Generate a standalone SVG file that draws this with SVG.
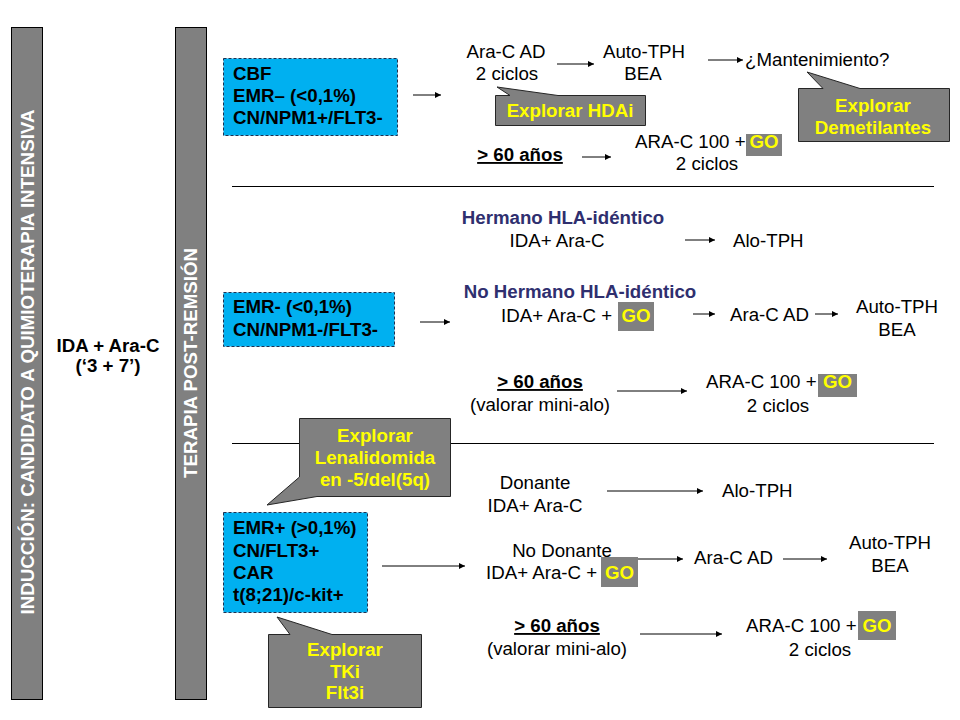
<svg xmlns="http://www.w3.org/2000/svg" width="960" height="720" viewBox="0 0 960 720">
<defs>
<marker id="ah" viewBox="0 0 10 10" refX="10" refY="5" markerWidth="8" markerHeight="6" markerUnits="userSpaceOnUse" orient="auto">
<path d="M0,0 L10,5 L0,10 Z" fill="#000"/>
</marker>
</defs>
<style>
text{font-family:"Liberation Sans",Arial,sans-serif;font-size:18.7px;fill:#000}
.b{font-weight:bold}
.c{text-anchor:middle}
.w{fill:#fff;font-weight:bold}
.y{fill:#FFFF00;font-weight:bold}
.n{fill:#2F2F6F;font-weight:bold}
.u{text-decoration:underline}
.bar{fill:#808080;stroke:#000;stroke-width:1}
.box{fill:#00B0F0;stroke:#1F3050;stroke-width:1;stroke-dasharray:3,2}
.call{fill:#808080;stroke:#262626;stroke-width:1}
.go{fill:#808080}
.ar{stroke:#000;stroke-width:1;fill:none;marker-end:url(#ah)}
.sep{stroke:#000;stroke-width:1}
</style>
<rect width="960" height="720" fill="#fff"/>

<g id="bar-induccion">
<rect class="bar" x="11.5" y="27.5" width="31" height="672"/>
<text class="w c" transform="translate(34,362) rotate(-90)" textLength="505" lengthAdjust="spacingAndGlyphs">INDUCCIÓN: CANDIDATO A QUIMIOTERAPIA INTENSIVA</text>
</g>
<g id="bar-postremision">
<rect class="bar" x="175.5" y="27.5" width="31" height="672"/>
<text class="w c" transform="translate(197,363) rotate(-90)" textLength="230" lengthAdjust="spacingAndGlyphs">TERAPIA POST-REMSIÓN</text>
</g>
<g id="induccion-tx">
<text class="b c" x="108" y="352">IDA + Ara-C</text>
<text class="b c" x="108" y="372">(‘3 + 7’)</text>
</g>

<g id="separators">
<line class="sep" x1="232" y1="186.5" x2="934" y2="186.5"/>
<line class="sep" x1="232" y1="443.5" x2="934" y2="443.5"/>
</g>

<g id="connectors">
<line class="ar" x1="413" y1="95" x2="441" y2="95"/>
<line class="ar" x1="557" y1="64" x2="594" y2="64"/>
<line class="ar" x1="708" y1="60" x2="743" y2="60"/>
<line class="ar" x1="582" y1="157" x2="611" y2="157"/>
<line class="ar" x1="685" y1="240" x2="715" y2="240"/>
<line class="ar" x1="420" y1="322" x2="450" y2="322"/>
<line class="ar" x1="693" y1="314" x2="715" y2="314"/>
<line class="ar" x1="815" y1="314" x2="838" y2="314"/>
<line class="ar" x1="617" y1="391" x2="687" y2="391"/>
<line class="ar" x1="607" y1="491" x2="703" y2="491"/>
<line class="ar" x1="382" y1="566" x2="465" y2="566"/>
<line class="ar" x1="638" y1="559" x2="683" y2="559"/>
<line class="ar" x1="783" y1="559" x2="827" y2="559"/>
<line class="ar" x1="640" y1="634" x2="722" y2="634"/>
</g>

<g id="box-cbf">
<rect class="box" x="223.5" y="58.5" width="174" height="77"/>
<text class="b" x="233" y="80">CBF</text>
<text class="b" x="233" y="102">EMR– (&lt;0,1%)</text>
<text class="b" x="233" y="124">CN/NPM1+/FLT3-</text>
</g>
<g id="box-emr-neg">
<rect class="box" x="223.5" y="292.5" width="171" height="54"/>
<text class="b" x="233" y="313">EMR- (&lt;0,1%)</text>
<text class="b" x="233" y="336">CN/NPM1-/FLT3-</text>
</g>
<g id="box-emr-pos">
<rect class="box" x="223.5" y="512.5" width="144" height="100"/>
<text class="b" x="233" y="534">EMR+ (&gt;0,1%)</text>
<text class="b" x="233" y="557">CN/FLT3+</text>
<text class="b" x="233" y="579">CAR</text>
<text class="b" x="233" y="601">t(8;21)/c-kit+</text>
</g>

<g id="top-aracad">
<text class="c" x="506" y="58">Ara-C AD</text>
<text class="c" x="507" y="80">2 ciclos</text>
</g>
<g id="top-autotph">
<text class="c" x="644" y="58">Auto-TPH</text>
<text class="c" x="643" y="80">BEA</text>
</g>
<g id="top-mant">
<text x="745" y="66">¿Mantenimiento?</text>
</g>
<g id="call-hdai">
<path class="call" d="M495.5,95.5 L510,95.5 L497,87 L558,95.5 L645.5,95.5 L645.5,125.5 L495.5,125.5 Z"/>
<text class="y c" x="570" y="117">Explorar HDAi</text>
</g>
<g id="call-demet">
<path class="call" d="M798.5,88.5 L823,88.5 L807,72 L860,88.5 L949.5,88.5 L949.5,141.5 L798.5,141.5 Z"/>
<text class="y c" x="873" y="112">Explorar</text>
<text class="y c" x="873" y="134">Demetilantes</text>
</g>
<g id="top-60">
<text class="b c u" x="520" y="161">&gt; 60 años</text>
</g>
<g id="top-arac100">
<text x="635" y="148">ARA-C 100 + </text>
<rect class="go" x="746" y="134" width="36" height="22"/>
<text class="y c" x="764" y="148">GO</text>
<text class="c" x="707" y="170">2 ciclos</text>
</g>

<g id="mid-hermano">
<text class="n c" x="563" y="224">Hermano HLA-idéntico</text>
<text class="c" x="557" y="247">IDA+ Ara-C</text>
</g>
<g id="mid-alo">
<text x="733" y="247">Alo-TPH</text>
</g>
<g id="mid-nohermano">
<text class="n c" x="580" y="298">No Hermano HLA-idéntico</text>
<text x="501" y="322">IDA+ Ara-C + </text>
<rect class="go" x="618" y="302" width="36" height="29"/>
<text class="y c" x="636" y="322">GO</text>
</g>
<g id="mid-aracad">
<text x="730" y="321">Ara-C AD</text>
</g>
<g id="mid-autotph">
<text class="c" x="897" y="313">Auto-TPH</text>
<text class="c" x="897" y="336">BEA</text>
</g>
<g id="mid-60">
<text class="b c u" x="540" y="388">&gt; 60 años</text>
<text class="c" x="540" y="411">(valorar mini-alo)</text>
</g>
<g id="mid-arac100">
<text x="706" y="388">ARA-C 100 + </text>
<rect class="go" x="818" y="374" width="39" height="23"/>
<text class="y c" x="837.5" y="388">GO</text>
<text class="c" x="778" y="412">2 ciclos</text>
</g>

<g id="call-lenal">
<path class="call" d="M299.5,418.5 L450.5,418.5 L450.5,496.5 L317,496.5 L267,505 L299.5,477 Z"/>
<text class="y c" x="375" y="442">Explorar</text>
<text class="y c" x="375" y="464">Lenalidomida</text>
<text class="y c" x="375" y="486">en -5/del(5q)</text>
</g>
<g id="bot-donante">
<text class="c" x="535" y="489">Donante</text>
<text class="c" x="535" y="512">IDA+ Ara-C</text>
</g>
<g id="bot-alo">
<text x="722" y="497">Alo-TPH</text>
</g>
<g id="bot-nodonante">
<text class="c" x="562" y="557">No Donante</text>
<text x="486" y="579">IDA+ Ara-C + </text>
<rect class="go" x="601" y="557" width="37" height="30"/>
<text class="y c" x="619.5" y="579">GO</text>
</g>
<g id="bot-aracad">
<text x="694" y="564">Ara-C AD</text>
</g>
<g id="bot-autotph">
<text class="c" x="890" y="549">Auto-TPH</text>
<text class="c" x="890" y="572">BEA</text>
</g>
<g id="bot-60">
<text class="b c u" x="557" y="632">&gt; 60 años</text>
<text class="c" x="557" y="655">(valorar mini-alo)</text>
</g>
<g id="bot-arac100">
<text x="746" y="632">ARA-C 100 + </text>
<rect class="go" x="858" y="611" width="38" height="29"/>
<text class="y c" x="877" y="632">GO</text>
<text class="c" x="820" y="656">2 ciclos</text>
</g>
<g id="call-tki">
<path class="call" d="M268.5,634.5 L290,634.5 L277,617 L332,634.5 L421.5,634.5 L421.5,707.5 L268.5,707.5 Z"/>
<text class="y c" x="345" y="656">Explorar</text>
<text class="y c" x="345" y="678">TKi</text>
<text class="y c" x="345" y="699">Flt3i</text>
</g>
</svg>
